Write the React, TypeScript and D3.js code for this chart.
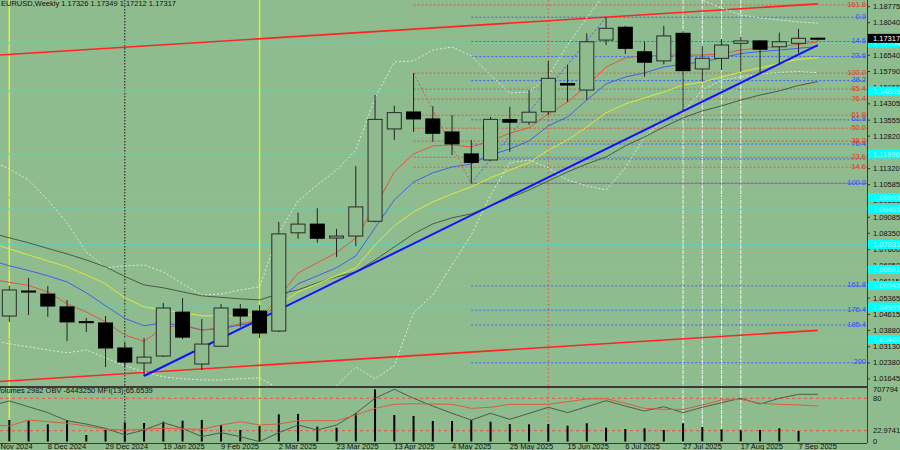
import * as d3 from "d3";

// weekly bars, first one sits just left of the visible area
const dates = [
  "17 Nov 2024", "24 Nov 2024", "1 Dec 2024", "8 Dec 2024", "15 Dec 2024", "22 Dec 2024", "29 Dec 2024",
  "5 Jan 2025", "12 Jan 2025", "19 Jan 2025", "26 Jan 2025", "2 Feb 2025", "9 Feb 2025", "16 Feb 2025",
  "23 Feb 2025", "2 Mar 2025", "9 Mar 2025", "16 Mar 2025", "23 Mar 2025", "30 Mar 2025", "6 Apr 2025",
  "13 Apr 2025", "20 Apr 2025", "27 Apr 2025", "4 May 2025", "11 May 2025", "18 May 2025", "25 May 2025",
  "1 Jun 2025", "8 Jun 2025", "15 Jun 2025", "22 Jun 2025", "29 Jun 2025", "6 Jul 2025", "13 Jul 2025",
  "20 Jul 2025", "27 Jul 2025", "3 Aug 2025", "10 Aug 2025", "17 Aug 2025", "24 Aug 2025", "31 Aug 2025",
  "7 Sep 2025", "14 Sep 2025",
];

const open = [1.0530, 1.0454, 1.0569, 1.0555, 1.0496, 1.0428, 1.0422, 1.0307, 1.0238, 1.0270, 1.0472, 1.0233, 1.0315, 1.0486, 1.0477, 1.0385, 1.0837, 1.0877, 1.0813, 1.0822, 1.0890, 1.1315, 1.1393, 1.1361, 1.1301, 1.1200, 1.1172, 1.1358, 1.1346, 1.1394, 1.1524, 1.1494, 1.1724, 1.1783, 1.1670, 1.1628, 1.1755, 1.1591, 1.1640, 1.1709, 1.1720, 1.1693, 1.1709, 1.17326];
const high = [1.0609, 1.0592, 1.0629, 1.0592, 1.0528, 1.0445, 1.0454, 1.0330, 1.0353, 1.0514, 1.0537, 1.0440, 1.0509, 1.0509, 1.0505, 1.0887, 1.0930, 1.0950, 1.0855, 1.1144, 1.1471, 1.1422, 1.1572, 1.1420, 1.1379, 1.1264, 1.1370, 1.1417, 1.1494, 1.1628, 1.1609, 1.1755, 1.1829, 1.1789, 1.1716, 1.1789, 1.1766, 1.1697, 1.1728, 1.1739, 1.1724, 1.1758, 1.1775, 1.17349];
const low = [1.0332, 1.0427, 1.0459, 1.0450, 1.0339, 1.0380, 1.0219, 1.0219, 1.0178, 1.0265, 1.0348, 1.0206, 1.0312, 1.0404, 1.0353, 1.0380, 1.0810, 1.0791, 1.0726, 1.0776, 1.0885, 1.1264, 1.1301, 1.1256, 1.1195, 1.1065, 1.1167, 1.1210, 1.1333, 1.1379, 1.1440, 1.1448, 1.1701, 1.1660, 1.1555, 1.1612, 1.1394, 1.1532, 1.1586, 1.1578, 1.1574, 1.1609, 1.1663, 1.17212];
const close = [1.0418, 1.0574, 1.0565, 1.0500, 1.0427, 1.0425, 1.0307, 1.0242, 1.0265, 1.0491, 1.0357, 1.0325, 1.0491, 1.0454, 1.0376, 1.0832, 1.0877, 1.0812, 1.0822, 1.0956, 1.1359, 1.1390, 1.1361, 1.1295, 1.1246, 1.1161, 1.1359, 1.1346, 1.1392, 1.1548, 1.1517, 1.1716, 1.1778, 1.1686, 1.1622, 1.1743, 1.1583, 1.1640, 1.1701, 1.1720, 1.1682, 1.1716, 1.1732, 1.17317];
const volume = [300000, 291500, 282000, 233000, 291500, 88000, 156000, 260000, 251000, 268000, 282000, 291500, 224000, 156000, 210000, 369000, 373000, 201000, 187000, 382000, 707794, 359000, 346000, 278000, 278000, 291500, 268000, 237000, 233000, 237000, 214000, 247000, 187000, 169000, 179000, 156000, 247000, 197000, 165000, 152000, 156000, 179000, 142000, 2982];

const maRed = [1.0625, 1.0609, 1.0595, 1.0565, 1.0510, 1.0473, 1.0427, 1.0367, 1.0337, 1.0400, 1.0413, 1.0390, 1.0400, 1.0418, 1.0436, 1.0542, 1.0652, 1.0699, 1.0745, 1.0814, 1.0956, 1.1117, 1.1200, 1.1237, 1.1241, 1.1232, 1.1260, 1.1295, 1.1320, 1.1384, 1.1439, 1.1513, 1.1600, 1.1642, 1.1651, 1.1655, 1.1655, 1.1655, 1.1660, 1.1678, 1.1688, 1.1694, 1.1704, 1.1715];
const maBlue = [1.0712, 1.0685, 1.0664, 1.0639, 1.0611, 1.0561, 1.0501, 1.0443, 1.0409, 1.0423, 1.0409, 1.0390, 1.0395, 1.0413, 1.0423, 1.0528, 1.0602, 1.0639, 1.0676, 1.0731, 1.0860, 1.0988, 1.1071, 1.1113, 1.1140, 1.1154, 1.1195, 1.1223, 1.1260, 1.1329, 1.1370, 1.1448, 1.1522, 1.1554, 1.1573, 1.1600, 1.1614, 1.1623, 1.1642, 1.1662, 1.1671, 1.1678, 1.1686, 1.1694];
const maYellow = [1.0791, 1.0763, 1.0735, 1.0708, 1.0680, 1.0643, 1.0602, 1.0538, 1.0496, 1.0482, 1.0469, 1.0455, 1.0455, 1.0455, 1.0464, 1.0505, 1.0565, 1.0602, 1.0639, 1.0676, 1.0781, 1.0869, 1.0933, 1.0979, 1.1016, 1.1048, 1.1090, 1.1126, 1.1159, 1.1218, 1.1264, 1.1324, 1.1389, 1.1430, 1.1458, 1.1485, 1.1517, 1.1531, 1.1554, 1.1577, 1.1596, 1.1616, 1.1635, 1.1643];
const maGray = [1.0837, 1.0814, 1.0791, 1.0765, 1.0740, 1.0712, 1.0680, 1.0636, 1.0597, 1.0584, 1.0565, 1.0547, 1.0540, 1.0533, 1.0528, 1.0556, 1.0574, 1.0607, 1.0634, 1.0657, 1.0712, 1.0772, 1.0832, 1.0878, 1.0906, 1.0924, 1.0961, 1.0998, 1.1034, 1.1076, 1.1117, 1.1154, 1.1186, 1.1237, 1.1278, 1.1324, 1.1366, 1.1398, 1.1421, 1.1448, 1.1471, 1.1490, 1.1515, 1.1533];
const bandUpper = [1.1172, 1.1131, 1.1080, 1.0988, 1.0883, 1.0749, 1.0676, 1.0685, 1.0689, 1.0657, 1.0602, 1.0551, 1.0556, 1.0574, 1.0588, 1.0837, 1.0984, 1.1057, 1.1126, 1.1218, 1.1458, 1.1623, 1.1628, 1.1678, 1.1692, 1.1651, 1.1563, 1.1480, 1.1485, 1.1559, 1.1701, 1.1826, 1.1945, 1.2000, 1.2019, 1.2000, 1.1954, 1.1908, 1.1871, 1.1839, 1.1826, 1.1816, 1.1807, 1.1802];
const bandLower = [1.0344, 1.0326, 1.0312, 1.0298, 1.0285, 1.0298, 1.0262, 1.0225, 1.0197, 1.0174, 1.0165, 1.0160, 1.0160, 1.0165, 1.0170, 1.0119, 1.0105, 1.0114, 1.0133, 1.0220, 1.0165, 1.0225, 1.0469, 1.0551, 1.0689, 1.0827, 1.1011, 1.1159, 1.1172, 1.1136, 1.1080, 1.1053, 1.1034, 1.1136, 1.1278, 1.1356, 1.1393, 1.1494, 1.1540, 1.1554, 1.1568, 1.1575, 1.1579, 1.1574];

// sub window: OBV in millions, MFI(13)
const obv = [-15.2, -11.4, -15.7, -20.1, -26.1, -28.6, -31.8, -36.7, -33.0, -27.6, -31.8, -38.0, -35.0, -38.0, -41.7, -35.0, -29.3, -33.0, -29.3, -20.6, -9.4, -2.7, -9.4, -15.2, -20.6, -25.6, -20.6, -25.1, -20.6, -16.1, -20.1, -15.7, -11.2, -15.2, -18.9, -15.7, -20.1, -16.1, -12.7, -9.4, -13.7, -9.4, -6.45, -6.44325];
const mfi = [30.6, 28.7, 39.8, 36.7, 33.7, 28.7, 22.6, 21.3, 22.6, 24.4, 23.1, 22.6, 30.6, 36.7, 30.6, 32.4, 38.5, 38.5, 38.5, 49.1, 61.5, 68.9, 70.0, 69.4, 68.9, 61.5, 63.3, 68.9, 68.9, 68.9, 73.7, 78.7, 79.3, 70.7, 61.5, 59.6, 59.6, 67.6, 76.9, 78.1, 70.7, 68.9, 67.6, 65.6539];
const mfiLevels = [80, 20];
const mfiLevelLabels = ["80", "22.9741"];

const priceTicks = [1.18775, 1.1804, 1.1654, 1.1579, 1.15055, 1.14305, 1.13555, 1.1282, 1.1208, 1.1132, 1.10585, 1.09835, 1.09085, 1.0835, 1.076, 1.0685, 1.06115, 1.05365, 1.04615, 1.0388, 1.0313, 1.0238, 1.01645];
const dateTicks = ["17 Nov 2024", "8 Dec 2024", "29 Dec 2024", "19 Jan 2025", "9 Feb 2025", "2 Mar 2025", "23 Mar 2025", "13 Apr 2025", "4 May 2025", "25 May 2025", "15 Jun 2025", "6 Jul 2025", "27 Jul 2025", "17 Aug 2025", "7 Sep 2025"];

const cyanLevels = [1.17104, 1.14895, 1.11996, 1.09995, 1.09465, 1.07831, 1.06681, 1.05945, 1.04955, 1.0346];

const yellowVLines = ["24 Nov 2024", "23 Feb 2025"];
const blackVLines = ["5 Jan 2025"];
const redVLines = ["8 Jun 2025"];
const whiteVLines = ["27 Jul 2025", "3 Aug 2025", "10 Aug 2025", "17 Aug 2025"];

const channelUpper = [["17 Nov 2024", 1.16524], ["14 Sep 2025", 1.18904]] as const;
const channelLower = [["17 Nov 2024", 1.01499], ["14 Sep 2025", 1.03879]] as const;
const trendBlue = [["12 Jan 2025", 1.0178], ["14 Sep 2025", 1.1701]] as const;

const redFibFrom = ["20 Apr 2025", 1.1572] as const;
const redFibTo = ["11 May 2025", 1.1065] as const;
const redFibLevels = [0, 14.6, 23.6, 38.2, 50, 61.8, 76.4, 85.4, 100, 161.8];
const redFibLabels = ["", "14.6", "23.6", "38.2", "50.0", "61.8", "76.4", "85.4", "100.0", "161.8"];

const blueFibFrom = ["11 May 2025", 1.1065] as const;
const blueFibTo = ["29 Jun 2025", 1.1829] as const;
const blueFibLevels = [0, 14.6, 23.6, 38.2, 61.8, 76.4, 85.4, 100, 161.8, 176.4, 185.4, 208.1];
const blueFibLabels = ["0.0", "14.6", "23.6", "38.2", "61.8", "76.4", "", "100.0", "161.8", "176.4", "185.4", "200"];

const BG = "#8fbc8f";
const FONT = "'Liberation Sans', Arial, sans-serif";
const PLOT_R = 867;
const MAIN_B = 386;
const SUB_T = 388;
const SUB_B = 443;

export default function App() {
  const x = d3.scaleLinear().domain([0, dates.length - 1]).range([-9.95, 817.8]);
  const y = d3.scaleLinear().domain([1.0132, 1.19083]).range([MAIN_B, 0]);
  const yVol = d3.scaleLinear().domain([0, 707794]).range([441.5, 389.3]);
  const yMfi = d3.scaleLinear().domain([0, 100]).range([441.5, 387.5]);
  const yObv = d3.scaleLinear().domain([-42.7, -2.5]).range([443, 389]);
  const at = (d: string) => x(dates.indexOf(d));
  const last = dates.length - 1;

  const path = (vals: number[], scale: (v: number) => number) =>
    d3.line<number>().x((_, i) => x(i)).y((v) => scale(v))(vals) ?? "";

  const seg = (a: readonly [string, number], b: readonly [string, number]) => ({
    x1: at(a[0]), y1: y(a[1]), x2: at(b[0]), y2: y(b[1]),
  });

  const redHi = redFibFrom[1], redLo = redFibTo[1];
  const redFib = redFibLevels.map((l, i) => ({ p: redLo + (l / 100) * (redHi - redLo), label: redFibLabels[i] }));
  const blueLo = blueFibFrom[1], blueHi = blueFibTo[1];
  const blueFib = blueFibLevels.map((l, i) => ({ p: blueHi - (l / 100) * (blueHi - blueLo), label: blueFibLabels[i] }));

  const fmt = (v: number) => v.toFixed(5);
  const title = `EURUSD,Weekly  ${fmt(open[last])} ${fmt(high[last])} ${fmt(low[last])} ${fmt(close[last])}`;
  const subTitle = `Volumes ${volume[last]}  OBV ${Math.round(obv[last] * 1e6)}  MFI(13) ${mfi[last].toFixed(4)}`;

  return (
    <>
      <style>{`body{margin:0;} svg{display:block;}`}</style>
      <svg width={900} height={450} fontFamily={FONT}>
        <defs>
          <clipPath id="mainClip"><rect x={0} y={0} width={PLOT_R} height={MAIN_B} /></clipPath>
          <clipPath id="subClip"><rect x={0} y={SUB_T} width={PLOT_R} height={SUB_B - SUB_T} /></clipPath>
          <clipPath id="allClip"><rect x={0} y={0} width={PLOT_R} height={SUB_B} /></clipPath>
        </defs>
        <rect width={900} height={450} fill={BG} />

        {/* vertical lines through both windows */}
        <g clipPath="url(#allClip)">
          {yellowVLines.map((d) => (
            <line key={d} x1={at(d)} x2={at(d)} y1={0} y2={SUB_B} stroke="#e4ef2e" strokeWidth={1.5} />
          ))}
          {blackVLines.map((d) => (
            <line key={d} x1={at(d)} x2={at(d)} y1={0} y2={SUB_B} stroke="#1a1a1a" strokeDasharray="1.5,1.5" />
          ))}
          {redVLines.map((d) => (
            <line key={d} x1={at(d)} x2={at(d)} y1={0} y2={SUB_B} stroke="#d9634f" strokeDasharray="2,2" />
          ))}
          {whiteVLines.map((d) => (
            <line key={d} x1={at(d)} x2={at(d)} y1={0} y2={SUB_B} stroke="#eef4ee" strokeDasharray="4,1" />
          ))}
        </g>

        <g clipPath="url(#mainClip)">
          {cyanLevels.map((p) => (
            <line key={p} x1={0} x2={PLOT_R} y1={y(p)} y2={y(p)} stroke="#3fe0d0" strokeDasharray="2,2" />
          ))}

          {redFib.map((f) => (
            <line key={"r" + f.p} x1={at(redFibFrom[0])} x2={PLOT_R} y1={y(f.p)} y2={y(f.p)} stroke="#e8503e" strokeDasharray="2,2" />
          ))}
          {blueFib.map((f) => (
            <line key={"b" + f.p} x1={at(blueFibFrom[0])} x2={PLOT_R} y1={y(f.p)} y2={y(f.p)} stroke="#3f5cff" strokeDasharray="2,2" />
          ))}
          <line {...seg(redFibFrom, redFibTo)} stroke="#e8503e" strokeDasharray="2,2" />
          <line {...seg(blueFibFrom, blueFibTo)} stroke="#3f5cff" strokeDasharray="2,2" />

          <line {...seg(channelUpper[0], channelUpper[1])} stroke="#ff2424" strokeWidth={1.6} />
          <line {...seg(channelLower[0], channelLower[1])} stroke="#ff2424" strokeWidth={1.6} />

          <path d={path(bandUpper, y)} fill="none" stroke="#dfeadf" strokeDasharray="2,2" />
          <path d={path(bandLower, y)} fill="none" stroke="#dfeadf" strokeDasharray="2,2" />
          <path d={path(maGray, y)} fill="none" stroke="#4a5a4a" />
          <path d={path(maYellow, y)} fill="none" stroke="#e3e63a" />
          <path d={path(maBlue, y)} fill="none" stroke="#3f62e4" />
          <path d={path(maRed, y)} fill="none" stroke="#e2553c" />

          <line {...seg(trendBlue[0], trendBlue[1])} stroke="#1212ff" strokeWidth={2} />

          {dates.map((d, i) => {
            const cx = x(i);
            const up = close[i] >= open[i];
            const top = y(Math.max(open[i], close[i]));
            const bot = y(Math.min(open[i], close[i]));
            return (
              <g key={d}>
                <line x1={cx} x2={cx} y1={y(high[i])} y2={y(low[i])} stroke="#222" />
                <rect
                  x={cx - 7}
                  y={top}
                  width={14}
                  height={Math.max(bot - top, 1)}
                  fill={up ? BG : "#000"}
                  stroke={up ? "#2a2a2a" : "#000"}
                />
              </g>
            );
          })}
        </g>

        {/* fib labels */}
        <g fontSize={7.5} textAnchor="end">
          {blueFib.filter((f) => f.label && f.label !== "100.0").map((f) => (
            <text key={"bl" + f.p} x={866} y={y(f.p) + 1.5} fill="#2f4fff">{f.label}</text>
          ))}
          {redFib.filter((f) => f.label).map((f) => (
            <text key={"rl" + f.p} x={866} y={y(f.p) + 1.5} fill="#e23a2a">{f.label}</text>
          ))}
          {blueFib.filter((f) => f.label === "100.0").map((f) => (
            <text key={"bl" + f.p} x={866} y={y(f.p) + 1.5} fill="#2f4fff">{f.label}</text>
          ))}
        </g>

        {/* indicator window */}
        <g clipPath="url(#subClip)">
          {mfiLevels.map((l) => (
            <line key={l} x1={0} x2={PLOT_R} y1={yMfi(l)} y2={yMfi(l)} stroke="#e0584a" strokeDasharray="3,3" />
          ))}
          {volume.map((v, i) => (
            <line key={i} x1={x(i)} x2={x(i)} y1={yVol(0)} y2={yVol(v)} stroke="#000" strokeWidth={2} />
          ))}
          <path d={path(obv, yObv)} fill="none" stroke="#4c5c4c" />
          <path d={path(mfi, yMfi)} fill="none" stroke="#e05a40" />
        </g>
        <text x={-4} y={393} fontSize={7.5} fill="#111">{subTitle}</text>

        {/* frame */}
        <line x1={0} x2={PLOT_R} y1={MAIN_B + 1} y2={MAIN_B + 1} stroke="#3a3a3a" strokeWidth={2} />
        <line x1={0} x2={PLOT_R} y1={SUB_B + 0.5} y2={SUB_B + 0.5} stroke="#3a3a3a" />
        <line x1={PLOT_R + 0.5} x2={PLOT_R + 0.5} y1={0} y2={SUB_B} stroke="#3a3a3a" />

        {/* price axis */}
        <g fontSize={7.5} fill="#111">
          {priceTicks.map((p) => (
            <g key={p}>
              <line x1={PLOT_R} x2={PLOT_R + 3} y1={y(p)} y2={y(p)} stroke="#333" />
              <text x={873} y={y(p)} dominantBaseline="central">{fmt(p)}</text>
            </g>
          ))}
          {cyanLevels.map((p) => (
            <g key={"c" + p}>
              <rect x={868} y={y(p) - 4.5} width={32} height={9} fill="#00ffff" />
              <text x={873} y={y(p)} dominantBaseline="central" fill="#a8fbfb">{fmt(p)}</text>
            </g>
          ))}
          <rect x={868} y={y(close[last]) - 4.5} width={32} height={9} fill="#000" />
          <text x={873} y={y(close[last])} dominantBaseline="central" fill="#fff">{fmt(close[last])}</text>

          <text x={873} y={yVol(707794)} dominantBaseline="central">707794</text>
          {mfiLevels.map((l, i) => (
            <text key={l} x={873} y={yMfi(l)} dominantBaseline="central">{mfiLevelLabels[i]}</text>
          ))}
          <text x={873} y={yMfi(0)} dominantBaseline="central">0</text>
        </g>

        {/* time axis */}
        <g fontSize={7.5} fill="#111">
          {dateTicks.map((d) => (
            <text key={d} x={at(d)} y={449}>{d}</text>
          ))}
        </g>

        <text x={1} y={6} fontSize={7.5} fill="#111">{title}</text>
      </svg>
    </>
  );
}
